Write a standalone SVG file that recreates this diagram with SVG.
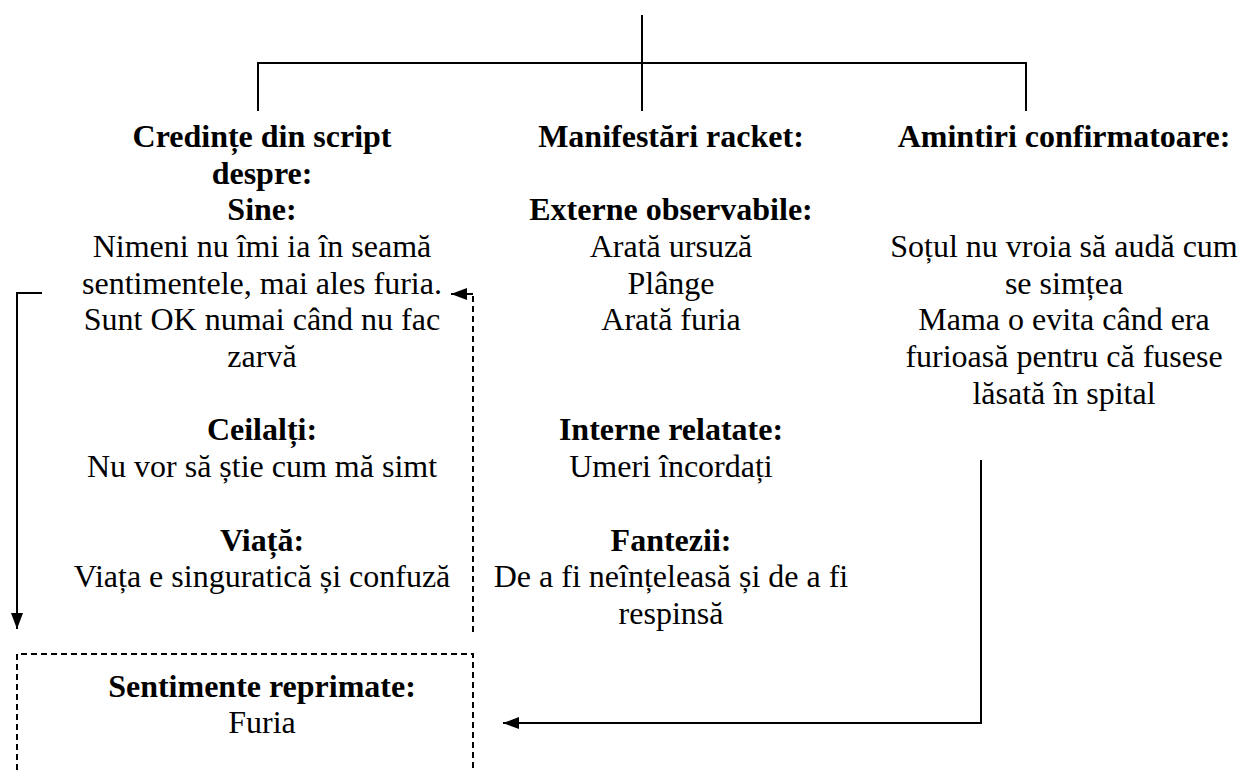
<svg xmlns="http://www.w3.org/2000/svg" width="1242" height="770" viewBox="0 0 1242 770">
  <style>
    text { font-size: 32px; fill: #000; text-anchor: middle; }
    .b { font-weight: bold; }
    .solid { fill: none; stroke: #000; stroke-width: 2; }
    .dash { fill: none; stroke: #000; stroke-width: 2; stroke-dasharray: 6 4; }
  </style>
  <defs>
    <marker id="arrow" viewBox="0 0 16 12" refX="16" refY="6" markerWidth="16" markerHeight="12" markerUnits="userSpaceOnUse" orient="auto">
      <path d="M0,0 L16,6 L0,12 Z" fill="#000"/>
    </marker>
  </defs>

  <rect width="1242" height="770" fill="#fff"/>

  <!-- connectors -->
  <g id="connectors">
    <!-- tree bracket from the top -->
    <path class="solid" d="M642,15 V111"/>
    <path class="solid" d="M258,111 V63 H1026 V111"/>
    <!-- solid return line on the left -->
    <path class="solid" d="M42,293 H17 V629" marker-end="url(#arrow)"/>
    <!-- dashed feedback line -->
    <path class="dash" d="M473,632 V294"/>
    <path class="solid" d="M473,294 H451" marker-end="url(#arrow)"/>
    <!-- memories to repressed feelings -->
    <path class="solid" d="M981,460 V723 H503" marker-end="url(#arrow)"/>
  </g>

  <g font-family="'Liberation Serif', 'DejaVu Serif', serif">
  <!-- script beliefs -->
  <g id="script-beliefs">
    <text x="262" y="147" class="b">Credințe din script</text>
    <text x="262" y="184" class="b">despre:</text>
    <text x="262" y="220" class="b">Sine:</text>
    <text x="262" y="257">Nimeni nu îmi ia în seamă</text>
    <text x="262" y="294">sentimentele, mai ales furia.</text>
    <text x="262" y="330">Sunt OK numai când nu fac</text>
    <text x="262" y="367">zarvă</text>
    <text x="262" y="440" class="b">Ceilalți:</text>
    <text x="262" y="477">Nu vor să știe cum mă simt</text>
    <text x="262" y="551" class="b">Viață:</text>
    <text x="262" y="587">Viața e singuratică și confuză</text>
  </g>

  <!-- racket displays -->
  <g id="racket-displays">
    <text x="671" y="147" class="b">Manifestări racket:</text>
    <text x="671" y="220" class="b">Externe observabile:</text>
    <text x="671" y="257">Arată ursuză</text>
    <text x="671" y="294">Plânge</text>
    <text x="671" y="330">Arată furia</text>
    <text x="671" y="440" class="b">Interne relatate:</text>
    <text x="671" y="477">Umeri încordați</text>
    <text x="671" y="551" class="b">Fantezii:</text>
    <text x="671" y="587">De a fi neînțeleasă și de a fi</text>
    <text x="671" y="624">respinsă</text>
  </g>

  <!-- reinforcing memories -->
  <g id="reinforcing-memories">
    <text x="1064" y="147" class="b">Amintiri confirmatoare:</text>
    <text x="1064" y="257">Soțul nu vroia să audă cum</text>
    <text x="1064" y="294">se simțea</text>
    <text x="1064" y="330">Mama o evita când era</text>
    <text x="1064" y="367">furioasă pentru că fusese</text>
    <text x="1064" y="404">lăsată în spital</text>
  </g>

  <!-- repressed feelings -->
  <g id="repressed-feelings">
    <path class="dash" d="M17,790 V654 H473 V790"/>
    <text x="262" y="697" class="b">Sentimente reprimate:</text>
    <text x="262" y="733">Furia</text>
  </g>
  </g>
</svg>
